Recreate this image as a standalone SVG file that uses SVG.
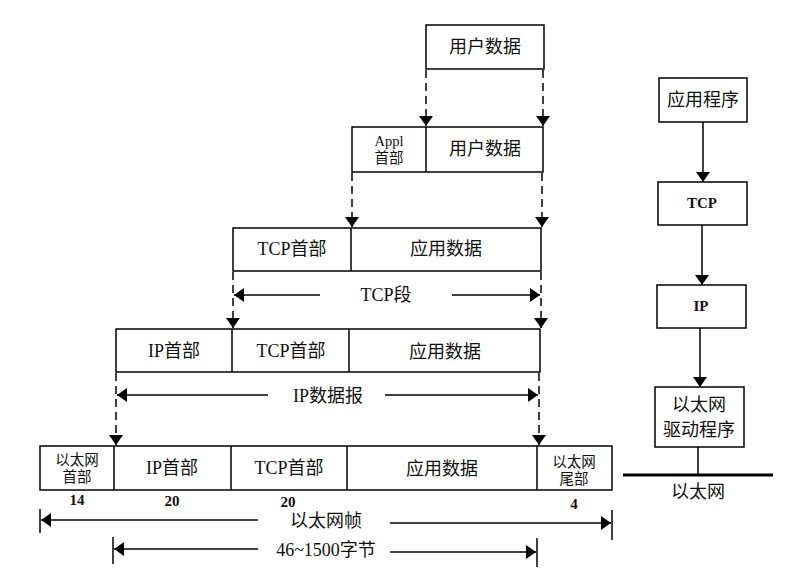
<svg xmlns="http://www.w3.org/2000/svg" width="804" height="580" viewBox="0 0 804 580">
<defs>
<marker id="ah" viewBox="0 0 10 16" refX="10" refY="8" markerWidth="10" markerHeight="16" markerUnits="userSpaceOnUse" orient="auto">
<path d="M0,1 L10,8 L0,15 Z" fill="#000"/>
</marker>
</defs>
<style>
.box{fill:#fff;stroke:#000;stroke-width:1.5}
.ln{stroke:#000;stroke-width:1.5;fill:none}
.dash{stroke:#000;stroke-width:1.5;fill:none;stroke-dasharray:8 5}
.t{font-family:"Liberation Serif","Noto Sans CJK SC",serif;font-size:18px;text-anchor:middle;dominant-baseline:central;fill:#111}
.s{font-size:14.5px}
.b{font-weight:bold;font-size:15px}
</style>
<rect width="804" height="580" fill="#fff"/>

<g id="user-data">
<rect class="box" x="426" y="25" width="118" height="44"/>
<text class="t" x="485" y="47">用户数据</text>
</g>

<g id="appl-packet">
<rect class="box" x="352" y="127" width="191" height="45"/>
<line class="ln" x1="426" y1="127" x2="426" y2="172"/>
<text class="t s" x="389" y="141">Appl</text>
<text class="t s" x="389" y="158">首部</text>
<text class="t" x="485" y="149">用户数据</text>
</g>

<g id="tcp-segment">
<rect class="box" x="233" y="228" width="308" height="43"/>
<line class="ln" x1="351" y1="228" x2="351" y2="271"/>
<text class="t" x="292" y="249">TCP首部</text>
<text class="t" x="446" y="249">应用数据</text>
<text class="t" x="386" y="295">TCP段</text>
</g>

<g id="ip-datagram">
<rect class="box" x="116" y="329" width="424" height="43"/>
<line class="ln" x1="232" y1="329" x2="232" y2="372"/>
<line class="ln" x1="349" y1="329" x2="349" y2="372"/>
<text class="t" x="174" y="351">IP首部</text>
<text class="t" x="291" y="351">TCP首部</text>
<text class="t" x="445" y="352">应用数据</text>
<text class="t" x="328" y="396">IP数据报</text>
</g>

<g id="ethernet-frame">
<rect class="box" x="40" y="446" width="572" height="44"/>
<line class="ln" x1="114" y1="446" x2="114" y2="490"/>
<line class="ln" x1="231" y1="446" x2="231" y2="490"/>
<line class="ln" x1="347" y1="446" x2="347" y2="490"/>
<line class="ln" x1="537" y1="446" x2="537" y2="490"/>
<text class="t s" x="77" y="460">以太网</text>
<text class="t s" x="77" y="477">首部</text>
<text class="t" x="172" y="468">IP首部</text>
<text class="t" x="289" y="468">TCP首部</text>
<text class="t" x="442" y="469">应用数据</text>
<text class="t s" x="574" y="462">以太网</text>
<text class="t s" x="574" y="479">尾部</text>
<text class="t b" x="77" y="500">14</text>
<text class="t b" x="172" y="501">20</text>
<text class="t b" x="288" y="502">20</text>
<text class="t b" x="574" y="504">4</text>
<text class="t" x="326" y="521">以太网帧</text>
<text class="t" x="326" y="550">46~1500字节</text>
</g>

<g id="app">
<rect class="box" x="659" y="78" width="88" height="44"/>
<text class="t" x="703" y="100">应用程序</text>
</g>
<g id="tcp">
<rect class="box" x="658" y="182" width="89" height="43"/>
<text class="t b" x="702" y="203">TCP</text>
</g>
<g id="ip">
<rect class="box" x="657" y="285" width="89" height="43"/>
<text class="t b" x="701" y="306">IP</text>
</g>
<g id="driver">
<rect class="box" x="655" y="387" width="89" height="60"/>
<text class="t" x="699" y="405">以太网</text>
<text class="t" x="699" y="430">驱动程序</text>
</g>
<g id="ethernet">
<line x1="623" y1="475" x2="773" y2="475" stroke="#000" stroke-width="3"/>
<text class="t" x="698" y="492">以太网</text>
</g>

<g id="connectors">
<line class="dash" x1="426" y1="70" x2="426" y2="126" marker-end="url(#ah)"/>
<line class="dash" x1="543" y1="70" x2="543" y2="126" marker-end="url(#ah)"/>
<line class="dash" x1="352" y1="173" x2="352" y2="227" marker-end="url(#ah)"/>
<line class="dash" x1="542" y1="173" x2="542" y2="227" marker-end="url(#ah)"/>
<line class="dash" x1="233" y1="272" x2="233" y2="328" marker-end="url(#ah)"/>
<line class="dash" x1="541" y1="272" x2="541" y2="328" marker-end="url(#ah)"/>
<line class="dash" x1="116" y1="373" x2="116" y2="445" marker-end="url(#ah)"/>
<line class="dash" x1="539" y1="373" x2="539" y2="445" marker-end="url(#ah)"/>

<line class="ln" x1="320" y1="295" x2="234" y2="295" marker-end="url(#ah)"/>
<line class="ln" x1="452" y1="295" x2="540" y2="295" marker-end="url(#ah)"/>
<line class="ln" x1="268" y1="395" x2="117" y2="395" marker-end="url(#ah)"/>
<line class="ln" x1="385" y1="395" x2="538" y2="395" marker-end="url(#ah)"/>

<line class="ln" x1="40" y1="509" x2="40" y2="533"/>
<line class="ln" x1="612" y1="510" x2="612" y2="540"/>
<line class="ln" x1="258" y1="520" x2="41" y2="520" marker-end="url(#ah)"/>
<line class="ln" x1="390" y1="523" x2="611" y2="523" marker-end="url(#ah)"/>

<line class="ln" x1="113" y1="537" x2="113" y2="564"/>
<line class="ln" x1="537" y1="538" x2="537" y2="567"/>
<line class="ln" x1="258" y1="549" x2="114" y2="549" marker-end="url(#ah)"/>
<line class="ln" x1="390" y1="552" x2="536" y2="552" marker-end="url(#ah)"/>

<line class="ln" x1="703" y1="122" x2="703" y2="182" marker-end="url(#ah)"/>
<line class="ln" x1="702" y1="225" x2="702" y2="285" marker-end="url(#ah)"/>
<line class="ln" x1="700" y1="328" x2="700" y2="387" marker-end="url(#ah)"/>
<line class="ln" x1="698" y1="447" x2="698" y2="475"/>
</g>
</svg>
